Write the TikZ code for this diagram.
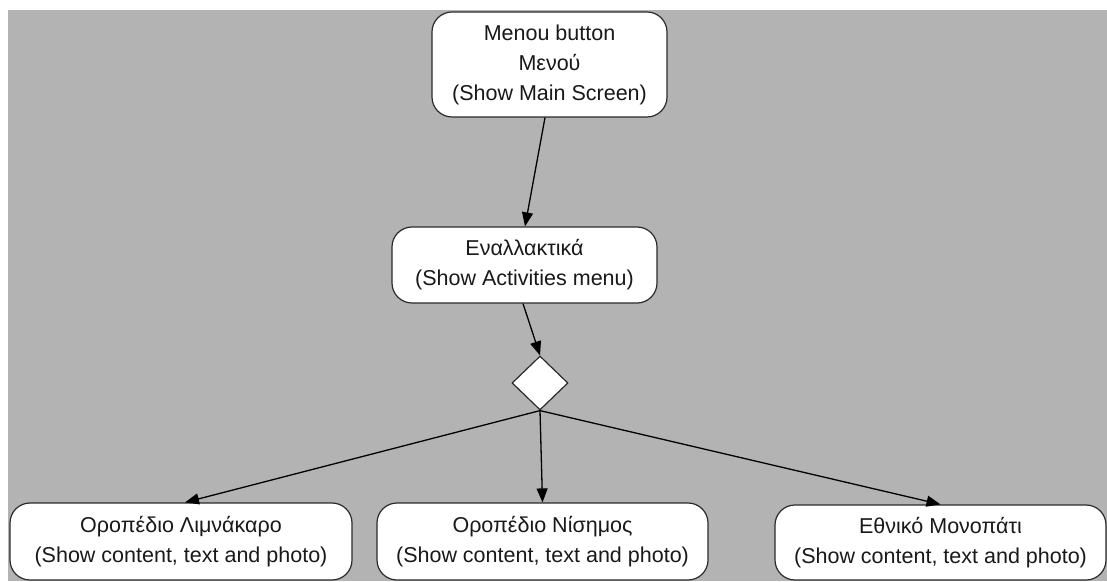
\documentclass[tikz,border=0pt]{standalone}
\usepackage{fontspec}
\setmainfont{Liberation Sans}
\usetikzlibrary{shapes.geometric,arrows.meta}
\definecolor{canvas}{HTML}{B3B3B3}
\definecolor{edge}{HTML}{2A2A2A}
\begin{document}
\begin{tikzpicture}[x=1pt,y=1pt,
  statebox/.style={draw=edge, line width=1.2pt, fill=white, rounded corners=20pt,
    align=center, font=\fontsize{21.5}{30}\selectfont, inner sep=0pt, text=black!90},
  choice/.style={draw=edge, line width=1.2pt, fill=white, diamond, inner sep=0pt,
    minimum width=56pt, minimum height=54pt},
  flow/.style={draw=black, line width=1.3pt, -{Triangle[length=14pt,width=11pt]}}]
  % page and canvas
  \fill[white] (0,0) rectangle (1107,581);
  \fill[canvas] (8,0) rectangle (1107,571);
  \useasboundingbox (0,0) rectangle (1107,581);
  % activity nodes
  \node[statebox, minimum width=235pt, minimum height=105pt] (menu) at (549.5,516.5)
    {Menou button\\Μενού\\(Show Main Screen)};
  \node[statebox, minimum width=265pt, minimum height=76pt] (alt) at (524.5,316)
    {Εναλλακτικά\\(Show Activities menu)};
  \node[choice] (dec) at (540,198) {};
  \node[statebox, minimum width=342pt, minimum height=77pt] (lim) at (181,39.5)
    {Οροπέδιο Λιμνάκαρο\\(Show content, text and photo)};
  \node[statebox, minimum width=331pt, minimum height=77pt] (nis) at (542.5,39.5)
    {Οροπέδιο Νίσημος\\(Show content, text and photo)};
  \node[statebox, minimum width=331pt, minimum height=75pt] (mon) at (940.5,38.5)
    {Εθνικό Μονοπάτι\\(Show content, text and photo)};
  % connectors
  \draw[flow] ([xshift=-4.5pt]menu.south) -- ([xshift=0.5pt]alt.north);
  \draw[flow] ([xshift=-1.5pt]alt.south) -- (dec.north);
  \draw[flow] (dec.south) -- ([xshift=4pt]lim.north);
  \draw[flow] (dec.south) -- (nis.north);
  \draw[flow] (dec.south) -- (mon.north);
\end{tikzpicture}
\end{document}
